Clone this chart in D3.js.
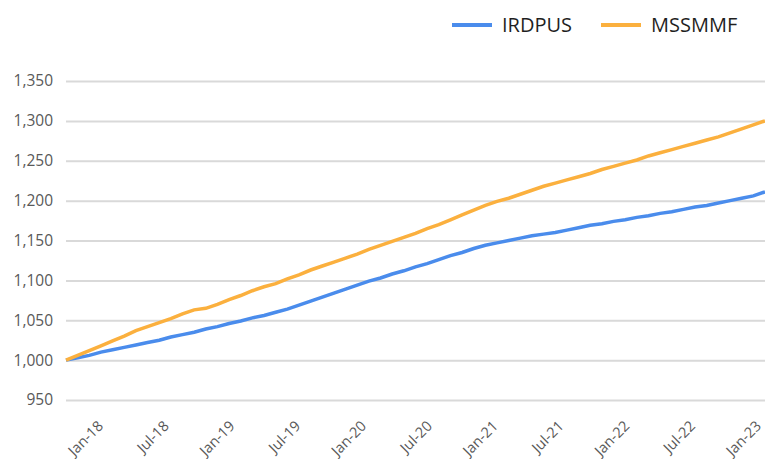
<!DOCTYPE html>
<html>
<head>
<meta charset="utf-8">
<script src="https://cdn.jsdelivr.net/npm/d3@7"></script>
<style>
  body { margin: 0; background: #fff; }
  text { font-family: "Open Sans", "Noto Sans", sans-serif; }
</style>
</head>
<body>
<div id="chart"></div>
<script>
var width = 765;
var height = 459;

// monthly values, Jan-18 .. Jan-23
var irdpus = [
  1000, 1003, 1006, 1010, 1013, 1016, 1019, 1022, 1025, 1029, 1032, 1035,
  1039, 1042, 1046, 1049, 1053, 1056, 1060, 1064, 1069, 1074, 1079, 1084,
  1089, 1094, 1099, 1103, 1108, 1112, 1117, 1121, 1126, 1131, 1135, 1140,
  1144, 1147, 1150, 1153, 1156, 1158, 1160, 1163, 1166, 1169, 1171, 1174,
  1176, 1179, 1181, 1184, 1186, 1189, 1192, 1194, 1197, 1200, 1203, 1206,
  1211];
var mssmmf = [
  1000, 1006, 1012, 1018, 1024, 1030, 1037, 1042, 1047, 1052, 1058, 1063,
  1065, 1070, 1076, 1081, 1087, 1092, 1096, 1102, 1107, 1113, 1118, 1123,
  1128, 1133, 1139, 1144, 1149, 1154, 1159, 1165, 1170, 1176, 1182, 1188,
  1194, 1199, 1203, 1208, 1213, 1218, 1222, 1226, 1230, 1234, 1239, 1243,
  1247, 1251, 1256, 1260, 1264, 1268, 1272, 1276, 1280, 1285, 1290, 1295,
  1300];
var yTicks = [950, 1000, 1050, 1100, 1150, 1200, 1250, 1300, 1350];
var xTickLabels = ["Jan-18", "Jul-18", "Jan-19", "Jul-19", "Jan-20", "Jul-20",
  "Jan-21", "Jul-21", "Jan-22", "Jul-22", "Jan-23"];

var series = [
  { name: "IRDPUS", values: irdpus, color: "#4a8cec" },
  { name: "MSSMMF", values: mssmmf, color: "#fbb03e" }
];

var svg = d3.select("#chart").append("svg")
  .attr("width", width)
  .attr("height", height);

var x = d3.scaleLinear().domain([0, irdpus.length - 1]).range([66, 765]);
var y = d3.scaleLinear().domain([950, 1350]).range([400, 81]);
//label anchors (end of rotated text)
var xLab = d3.scalePoint().domain(xTickLabels).range([104, 762]);

//gridlines + y labels
var yAxis = d3.axisLeft(y)
  .tickValues(yTicks)
  .tickSize(-(765 - 66))
  .tickPadding(13)
  .tickFormat(d3.format(","));

var gy = svg.append("g")
  .attr("transform", "translate(66,0)")
  .call(yAxis);
gy.select(".domain").remove();
gy.selectAll(".tick line").attr("stroke", "#d9d9d9").attr("stroke-width", 2);
gy.selectAll(".tick text")
  .attr("fill", "#595959")
  .style("font-size", "15.5px");

//x labels, rotated
svg.selectAll(".xlab")
  .data(xTickLabels)
  .enter().append("text")
  .attr("class", "xlab")
  .attr("text-anchor", "end")
  .attr("fill", "#595959")
  .style("font-size", "14.5px")
  .attr("transform", function(d) {
    return "translate(" + xLab(d) + ",427) rotate(-45)";
  })
  .text(function(d) { return d; });

var line = d3.line()
  .x(function(d, i) { return x(i); })
  .y(function(d) { return y(d); });

svg.selectAll(".series")
  .data(series)
  .enter().append("path")
  .attr("class", "series")
  .attr("fill", "none")
  .attr("stroke", function(d) { return d.color; })
  .attr("stroke-width", 3.5)
  .attr("d", function(d) { return line(d.values); });

//legend
var legend = svg.selectAll(".legend")
  .data(series)
  .enter().append("g")
  .attr("class", "legend")
  .attr("transform", function(d, i) { return "translate(" + (452 + i * 149) + ",25)"; });

legend.append("line")
  .attr("x1", 0).attr("x2", 40)
  .attr("stroke", function(d) { return d.color; })
  .attr("stroke-width", 4);

legend.append("text")
  .attr("x", 50)
  .attr("dy", "0.35em")
  .attr("fill", "#1f1f1f")
  .style("font-size", "20px")
  .text(function(d) { return d.name; });
</script>
</body>
</html>
